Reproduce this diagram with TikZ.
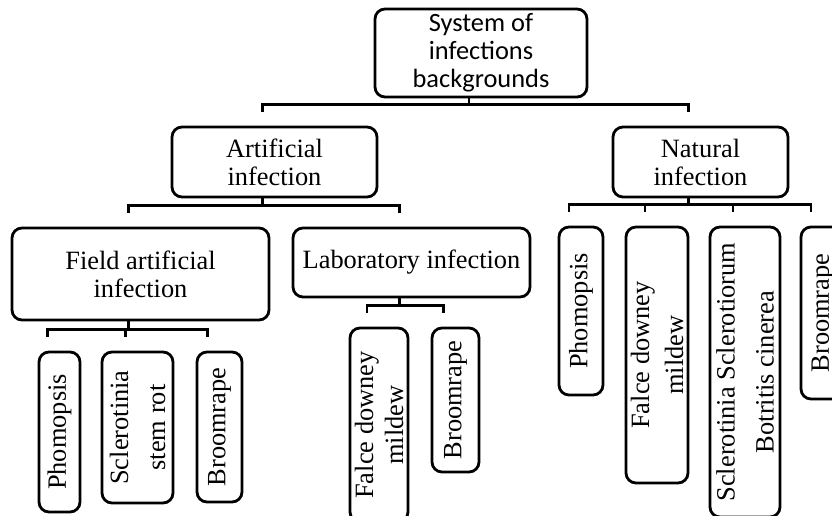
\documentclass[tikz,border=0pt]{standalone}
\usepackage{fontspec}
\setmainfont{Liberation Serif}
\newfontfamily\sysfont{Carlito}
\usepackage{tikz}
\usetikzlibrary{calc}

\tikzset{
  box/.style={draw, line width=2.8pt, rounded corners=10pt, align=center,
    inner sep=1pt, font=\fontsize{26.4}{28}\selectfont},
  leaf/.style={box, rotate=90},
  link/.style={line width=2.8pt},
}

\begin{document}
\begin{tikzpicture}[x=1pt,y=-1pt]
\useasboundingbox (0,0) rectangle (832,515);
\node[box, font=\fontsize{26.4}{28}\sysfont, minimum width=212pt, minimum height=88pt] (sys) at (481,53) {System of\\infections\\backgrounds};
\node[box, minimum width=205pt, minimum height=70pt] (art) at (274.5,162) {Artificial\\infection};
\node[box, minimum width=175pt, minimum height=70pt] (nat) at (700.5,162) {Natural\\infection};
\node[box, minimum width=257pt, minimum height=92pt] (field) at (140.5,274) {Field artificial\\infection};
\node[box, minimum width=237pt, minimum height=69pt] (lab) at (411.5,262.5) {Laboratory infection};
\node[leaf, minimum width=160pt, minimum height=41pt] (fpho) at (59.5,432) {Phomopsis};
\node[leaf, minimum width=151pt, minimum height=71pt] (fscl) at (137.5,427.5) {Sclerotinia\\[9pt]stem rot};
\node[leaf, minimum width=150pt, minimum height=45pt] (fbro) at (219.5,427) {Broomrape};
\node[leaf, minimum width=194pt, minimum height=58pt] (lfal) at (379,425) {Falce downey\\[2pt]mildew};
\node[leaf, minimum width=144pt, minimum height=47pt] (lbro) at (455.5,400) {Broomrape};
\node[leaf, minimum width=168pt, minimum height=44pt] (npho) at (581,311) {Phomopsis};
\node[leaf, minimum width=256pt, minimum height=62pt] (nfal) at (657,355) {Falce downey\\[6pt]mildew};
\node[leaf, minimum width=290pt, minimum height=70pt] (nscl) at (745,372) {Sclerotinia Sclerotiorum\\[11pt]Botritis cinerea};
\node[leaf, minimum width=172pt, minimum height=44pt] (nbro) at (823,313) {Broomrape};
\foreach \kid in {art,nat}
  \draw[link] ($(sys.south)+(-12,0)$) |- ($(\kid.north)+(-12,-21)$) -- ++(0,7);
\foreach \kid in {field,lab}
  \draw[link] ($(art.south)+(-12,0)$) |- ($(\kid.north)+(-12,-21)$) -- ++(0,7);
\foreach \kid in {fpho,fscl,fbro}
  \draw[link] ($(field.south)+(-12,0)$) |- ($(\kid.east)+(-12,-21)$) -- ++(0,7);
\foreach \kid in {lfal,lbro}
  \draw[link] ($(lab.south)+(-12,0)$) |- ($(\kid.east)+(-12,-21)$) -- ++(0,7);
\foreach \kid in {npho,nfal,nscl,nbro}
  \draw[link] ($(nat.south)+(-12,0)$) |- ($(\kid.east)+(-12,-21)$) -- ++(0,7);
\end{tikzpicture}
\end{document}
